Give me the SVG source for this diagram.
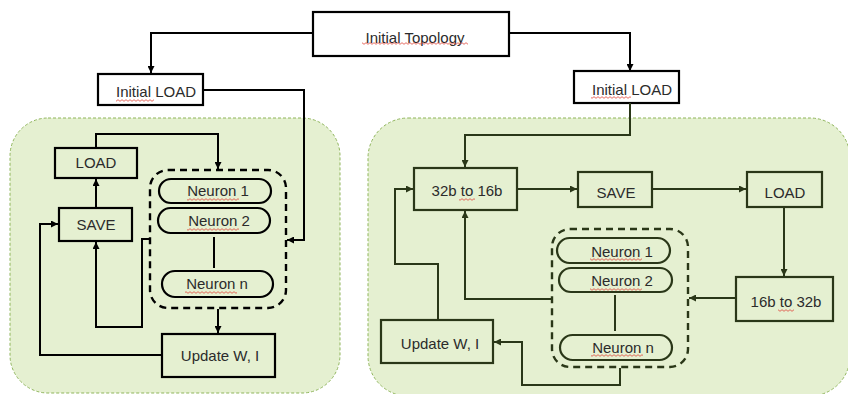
<svg xmlns="http://www.w3.org/2000/svg" width="848" height="394" viewBox="0 0 848 394">
  <style>
    .panel { fill: #e5f0d1; stroke: #8fb55b; stroke-width: 1; stroke-dasharray: 3 2; }
    .box { fill: #ffffff; stroke: #000000; stroke-width: 2.2; }
    .boxL { fill: none; stroke: #000000; stroke-width: 2.2; }
    .boxR { fill: none; stroke: #2a3718; stroke-width: 2.2; }
    .group { fill: none; stroke-width: 2.4; stroke-dasharray: 7 5; }
    .wire { fill: none; stroke: #000000; stroke-width: 2; }
    .wireR { fill: none; stroke: #2a3718; stroke-width: 2; }
    text { font-family: "Liberation Sans", Arial, sans-serif; font-size: 15px; fill: #2b2b2b; text-anchor: middle; }
    .squig { fill: url(#squig); }
  </style>
  <defs>
    <marker id="arr" markerUnits="userSpaceOnUse" markerWidth="8" markerHeight="7" refX="7" refY="3.5" orient="auto">
      <path d="M0,0 L7,3.5 L0,7 z" fill="#000000"/>
    </marker>
    <marker id="arrR" markerUnits="userSpaceOnUse" markerWidth="8" markerHeight="7" refX="7" refY="3.5" orient="auto">
      <path d="M0,0 L7,3.5 L0,7 z" fill="#2a3718"/>
    </marker>
    <pattern id="squig" width="4" height="3" patternUnits="userSpaceOnUse">
      <path d="M0,2.3 L2,0.7 L4,2.3" fill="none" stroke="#e0463a" stroke-width="0.8"/>
    </pattern>
  </defs>

  <!-- background panels -->
  <rect class="panel" x="10" y="118" width="330" height="275" rx="38"/>
  <rect class="panel" x="368" y="118" width="482" height="278" rx="40"/>

  <!-- top-level nodes -->
  <g id="initial-topology">
    <rect class="box" x="313" y="12" width="196" height="44"/>
    <text x="415" y="43">Initial Topology</text>
    <rect class="squig" x="362" y="42" width="106" height="3"/>
  </g>
  <g id="initial-load-left">
    <rect class="box" x="98" y="74" width="105" height="31"/>
    <text x="156" y="97">Initial LOAD</text>
    <rect class="squig" x="116" y="99" width="38" height="3"/>
  </g>
  <g id="initial-load-right">
    <rect class="box" x="574" y="71" width="105" height="32"/>
    <text x="632" y="95">Initial LOAD</text>
    <rect class="squig" x="591" y="96" width="40" height="3"/>
  </g>

  <!-- left panel nodes -->
  <g id="load-left">
    <rect class="boxL" x="55" y="148" width="82" height="30"/>
    <text x="96" y="168">LOAD</text>
  </g>
  <g id="save-left">
    <rect class="boxL" x="59" y="208" width="73" height="33"/>
    <text x="96" y="230">SAVE</text>
  </g>
  <g id="neurons-left">
    <rect class="group" stroke="#000000" x="150" y="170" width="136" height="138" rx="18"/>
    <rect class="boxL" x="159" y="179" width="112" height="24" rx="12"/>
    <text x="218" y="196">Neuron 1</text>
    <rect class="squig" x="187" y="198" width="52" height="3"/>
    <rect class="boxL" x="158" y="208" width="112" height="25" rx="12.5"/>
    <text x="219" y="226">Neuron 2</text>
    <rect class="squig" x="187" y="228" width="52" height="3"/>
    <line class="wire" x1="214" y1="237" x2="214" y2="268"/>
    <rect class="boxL" x="162" y="271" width="111" height="26" rx="13"/>
    <text x="217" y="289">Neuron n</text>
    <rect class="squig" x="185" y="291" width="52" height="3"/>
  </g>
  <g id="update-left">
    <rect class="boxL" x="162" y="334" width="113" height="43"/>
    <text x="220" y="361">Update W, I</text>
  </g>

  <!-- right panel nodes -->
  <g id="convert-32-16">
    <rect class="boxR" x="414" y="168" width="103" height="42"/>
    <text x="467" y="196">32b to 16b</text>
    <rect class="squig" x="459" y="198" width="16" height="3"/>
  </g>
  <g id="save-right">
    <rect class="boxR" x="578" y="172" width="74" height="35"/>
    <text x="616" y="198">SAVE</text>
  </g>
  <g id="load-right">
    <rect class="boxR" x="747" y="172" width="75" height="35"/>
    <text x="785" y="198">LOAD</text>
  </g>
  <g id="convert-16-32">
    <rect class="boxR" x="736" y="277" width="97" height="44"/>
    <text x="786" y="307">16b to 32b</text>
    <rect class="squig" x="778" y="309" width="16" height="3"/>
  </g>
  <g id="neurons-right">
    <rect class="group" stroke="#2a3718" x="552" y="229" width="136" height="138" rx="18"/>
    <rect class="boxR" x="557" y="238" width="113" height="25" rx="12.5"/>
    <text x="622" y="257">Neuron 1</text>
    <rect class="squig" x="590" y="258" width="52" height="3"/>
    <rect class="boxR" x="559" y="268" width="113" height="24" rx="12"/>
    <text x="622" y="286">Neuron 2</text>
    <rect class="squig" x="590" y="288" width="52" height="3"/>
    <line class="wireR" x1="615" y1="295" x2="615" y2="331"/>
    <rect class="boxR" x="560" y="335" width="112" height="25" rx="12.5"/>
    <text x="623" y="353">Neuron n</text>
    <rect class="squig" x="591" y="354" width="52" height="3"/>
  </g>
  <g id="update-right">
    <rect class="boxR" x="381" y="320" width="112" height="43"/>
    <text x="440" y="349">Update W, I</text>
  </g>

  <!-- connectors -->
  <g id="connectors">
    <path class="wire" d="M313,33 H151 V73" marker-end="url(#arr)"/>
    <path class="wire" d="M509,33 H630 V71" marker-end="url(#arr)"/>
    <path class="wire" d="M203,90 H304 V240 H287" marker-end="url(#arr)"/>
    <path class="wire" d="M96,148 V134 H218 V169" marker-end="url(#arr)"/>
    <path class="wire" d="M96,208 V179" marker-end="url(#arr)"/>
    <path class="wire" d="M150,239 H142 V327 H96 V242" marker-end="url(#arr)"/>
    <path class="wire" d="M218,309 V333" marker-end="url(#arr)"/>
    <path class="wire" d="M162,355 H40 V224 H58" marker-end="url(#arr)"/>

    <path class="wireR" d="M630,103 V135 H465 V167" marker-end="url(#arrR)"/>
    <path class="wireR" d="M517,189 H577" marker-end="url(#arrR)"/>
    <path class="wireR" d="M652,189 H746" marker-end="url(#arrR)"/>
    <path class="wireR" d="M784,207 V276" marker-end="url(#arrR)"/>
    <path class="wireR" d="M736,298 H689" marker-end="url(#arrR)"/>
    <path class="wireR" d="M552,299 H465 V211" marker-end="url(#arrR)"/>
    <path class="wireR" d="M620,368 V385 H522 V342 H494" marker-end="url(#arrR)"/>
    <path class="wireR" d="M438,320 V264 H395 V189 H413" marker-end="url(#arrR)"/>
  </g>
</svg>
